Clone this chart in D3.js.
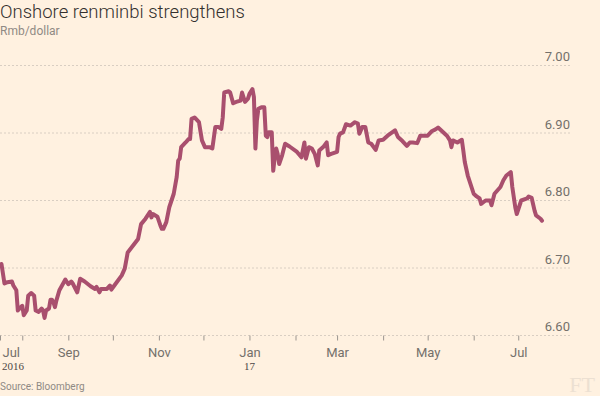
<!DOCTYPE html>
<html>
<head>
<meta charset="utf-8">
<script src="https://cdn.jsdelivr.net/npm/d3@7"></script>
<style>
  html, body { margin: 0; padding: 0; background: #fff1e0; }
  svg { display: block; font-family: Roboto, "Noto Sans", sans-serif; }
</style>
</head>
<body>
<div id="chart"></div>
<script>
// Onshore renminbi, Rmb per dollar
const dates = [
  "2016-07-18","2016-07-20","2016-07-22","2016-07-25","2016-07-26","2016-07-28","2016-07-29","2016-07-31",
  "2016-08-01","2016-08-02","2016-08-04","2016-08-05","2016-08-07","2016-08-09","2016-08-10","2016-08-12",
  "2016-08-14","2016-08-15","2016-08-16","2016-08-17","2016-08-19","2016-08-20","2016-08-21","2016-08-22",
  "2016-08-23","2016-08-24","2016-08-26","2016-08-29","2016-08-30","2016-09-01","2016-09-03","2016-09-04",
  "2016-09-07","2016-09-09","2016-09-12","2016-09-16","2016-09-19","2016-09-20","2016-09-22","2016-09-23",
  "2016-09-27","2016-09-29","2016-09-30","2016-10-02","2016-10-07","2016-10-09","2016-10-10","2016-10-11",
  "2016-10-18","2016-10-20","2016-10-23","2016-10-26","2016-10-27","2016-10-28","2016-10-31","2016-11-02",
  "2016-11-03","2016-11-04","2016-11-06","2016-11-08","2016-11-11","2016-11-13","2016-11-14","2016-11-15",
  "2016-11-16","2016-11-19","2016-11-21","2016-11-22","2016-11-23","2016-11-25","2016-11-28","2016-11-30",
  "2016-12-02","2016-12-05","2016-12-07","2016-12-09","2016-12-11","2016-12-13","2016-12-14","2016-12-15",
  "2016-12-18","2016-12-19","2016-12-21","2016-12-23","2016-12-26","2016-12-27","2016-12-28","2016-12-29",
  "2016-12-31","2017-01-01","2017-01-03","2017-01-04","2017-01-05","2017-01-06","2017-01-07","2017-01-09",
  "2017-01-11","2017-01-12","2017-01-13","2017-01-14","2017-01-16","2017-01-17","2017-01-18","2017-01-19",
  "2017-01-20","2017-01-21","2017-01-23","2017-01-25","2017-01-28","2017-02-02","2017-02-05","2017-02-07",
  "2017-02-08","2017-02-10","2017-02-12","2017-02-14","2017-02-16","2017-02-17","2017-02-20","2017-02-22",
  "2017-02-23","2017-02-25","2017-03-01","2017-03-02","2017-03-03","2017-03-05","2017-03-07","2017-03-10",
  "2017-03-13","2017-03-15","2017-03-16","2017-03-18","2017-03-20","2017-03-22","2017-03-24","2017-03-27",
  "2017-03-29","2017-04-01","2017-04-04","2017-04-09","2017-04-11","2017-04-14","2017-04-17","2017-04-19",
  "2017-04-21","2017-04-24","2017-04-26","2017-04-29","2017-05-01","2017-05-04","2017-05-06","2017-05-08",
  "2017-05-10","2017-05-14","2017-05-16","2017-05-17","2017-05-18","2017-05-21","2017-05-24","2017-05-25",
  "2017-05-26","2017-05-28","2017-06-01","2017-06-03","2017-06-05","2017-06-06","2017-06-09","2017-06-12",
  "2017-06-13","2017-06-15","2017-06-19","2017-06-21","2017-06-23","2017-06-26","2017-06-27","2017-06-29",
  "2017-06-30","2017-07-03","2017-07-07","2017-07-08","2017-07-10","2017-07-12","2017-07-13","2017-07-16",
  "2017-07-17"
];
const rates = [
  6.706,6.677,6.679,6.680,6.674,6.667,6.637,6.642,
  6.644,6.630,6.637,6.659,6.663,6.659,6.637,6.635,
  6.640,6.637,6.626,6.637,6.640,6.653,6.653,6.649,
  6.642,6.652,6.667,6.679,6.683,6.676,6.680,6.677,
  6.664,6.684,6.680,6.673,6.669,6.672,6.664,6.669,
  6.669,6.674,6.668,6.674,6.689,6.699,6.711,6.723,
  6.743,6.765,6.773,6.783,6.775,6.780,6.776,6.763,
  6.758,6.758,6.768,6.790,6.810,6.835,6.859,6.862,
  6.879,6.886,6.891,6.891,6.921,6.923,6.916,6.889,
  6.879,6.879,6.877,6.909,6.909,6.906,6.923,6.960,
  6.962,6.960,6.944,6.946,6.948,6.960,6.953,6.946,
  6.951,6.958,6.965,6.953,6.877,6.919,6.936,6.938,
  6.938,6.896,6.894,6.901,6.901,6.844,6.864,6.877,
  6.869,6.854,6.867,6.884,6.880,6.872,6.864,6.886,
  6.862,6.879,6.877,6.869,6.852,6.874,6.880,6.886,
  6.867,6.869,6.872,6.894,6.899,6.901,6.913,6.911,
  6.916,6.914,6.899,6.909,6.909,6.886,6.884,6.875,
  6.889,6.890,6.896,6.904,6.894,6.888,6.881,6.886,
  6.886,6.885,6.896,6.896,6.896,6.903,6.905,6.908,
  6.904,6.896,6.889,6.879,6.889,6.886,6.890,6.874,
  6.857,6.837,6.810,6.806,6.803,6.795,6.800,6.800,
  6.793,6.810,6.820,6.830,6.837,6.842,6.820,6.790,
  6.780,6.800,6.803,6.806,6.804,6.785,6.778,6.773,
  6.770
];
const yTicks = [6.60, 6.70, 6.80, 6.90, 7.00];
const xStart = "2016-07-17";
const xEnd = "2017-07-17";
const yearLabels = [["2016-07-17", "2016"], ["2017-01-01", "17"]];

const width = 600, height = 396;
const parse = d3.timeParse("%Y-%m-%d");
const data = dates.map((d, i) => ({ date: parse(d), value: rates[i] }));

const x = d3.scaleTime()
  .domain([parse(xStart), parse(xEnd)])
  .range([0, 542]);
const y = d3.scaleLinear()
  .domain([6.60, 7.00])
  .range([335.5, 65.5]);

const svg = d3.select("#chart").append("svg")
  .attr("width", width)
  .attr("height", height);

svg.append("rect").attr("width", width).attr("height", height).attr("fill", "#fff1e0");

// title + subtitle
svg.append("text")
  .attr("x", 0).attr("y", 18)
  .attr("font-size", 18.5).attr("font-weight", 300)
  .attr("fill", "#33302e")
  .text("Onshore renminbi strengthens");
svg.append("text")
  .attr("x", 0).attr("y", 35)
  .attr("font-size", 12)
  .attr("fill", "#8f8a84")
  .text("Rmb/dollar");

// gridlines + y labels
const grid = svg.append("g");
grid.selectAll("line")
  .data(yTicks)
  .enter().append("line")
  .attr("x1", 0).attr("x2", 572)
  .attr("y1", d => y(d)).attr("y2", d => y(d))
  .attr("stroke", "#d9cec2")
  .attr("stroke-dasharray", "2,2");
grid.selectAll("text")
  .data(yTicks)
  .enter().append("text")
  .attr("x", 570)
  .attr("y", d => y(d) - 4.5)
  .attr("text-anchor", "end")
  .attr("font-size", 13)
  .attr("fill", "#74706b")
  .text(d3.format(".2f"));

// x axis
const start = parse(xStart);
const tickDates = [start].concat(d3.timeMonth.range(new Date(2016, 7, 1), parse(xEnd)));
const xAxis = d3.axisBottom(x)
  .tickValues(tickDates)
  .tickSize(5)
  .tickPadding(7)
  .tickFormat(d => {
    if (+d === +start) return "Jul";
    return d.getMonth() % 2 === 0 ? d3.timeFormat("%b")(d) : "";
  });

const gx = svg.append("g")
  .attr("transform", "translate(0," + y(6.60) + ")")
  .call(xAxis);
gx.select(".domain").remove();
gx.selectAll(".tick line").attr("stroke", "#9b958f");
gx.selectAll(".tick text")
  .attr("font-size", 13)
  .attr("font-family", "Roboto, sans-serif")
  .attr("fill", "#74706b");
gx.selectAll(".tick").filter(d => +d === +start)
  .select("text").attr("text-anchor", "start").attr("x", 2);

svg.append("g").selectAll("text")
  .data(yearLabels)
  .enter().append("text")
  .attr("x", d => x(parse(d[0])) + (d[0] === xStart ? 2 : 0))
  .attr("y", 370)
  .attr("text-anchor", d => d[0] === xStart ? "start" : "middle")
  .attr("font-family", "'Liberation Serif', serif")
  .attr("font-size", 11)
  .attr("fill", "#4d4845")
  .text(d => d[1]);

// line
const line = d3.line()
  .x(d => x(d.date))
  .y(d => y(d.value));
svg.append("path")
  .datum(data)
  .attr("d", line)
  .attr("fill", "none")
  .attr("stroke", "#a94f6e")
  .attr("stroke-width", 4)
  .attr("stroke-linejoin", "round")
  .attr("stroke-linecap", "round");

// footer
svg.append("text")
  .attr("x", 0).attr("y", 390)
  .attr("font-size", 10)
  .attr("fill", "#8f8a84")
  .text("Source: Bloomberg");
svg.append("text")
  .attr("x", 595).attr("y", 392)
  .attr("text-anchor", "end")
  .attr("font-family", "'Liberation Serif', 'DejaVu Serif', serif")
  .attr("font-size", 22)
  .attr("fill", "#ece0d2")
  .text("FT");
</script>
</body>
</html>
